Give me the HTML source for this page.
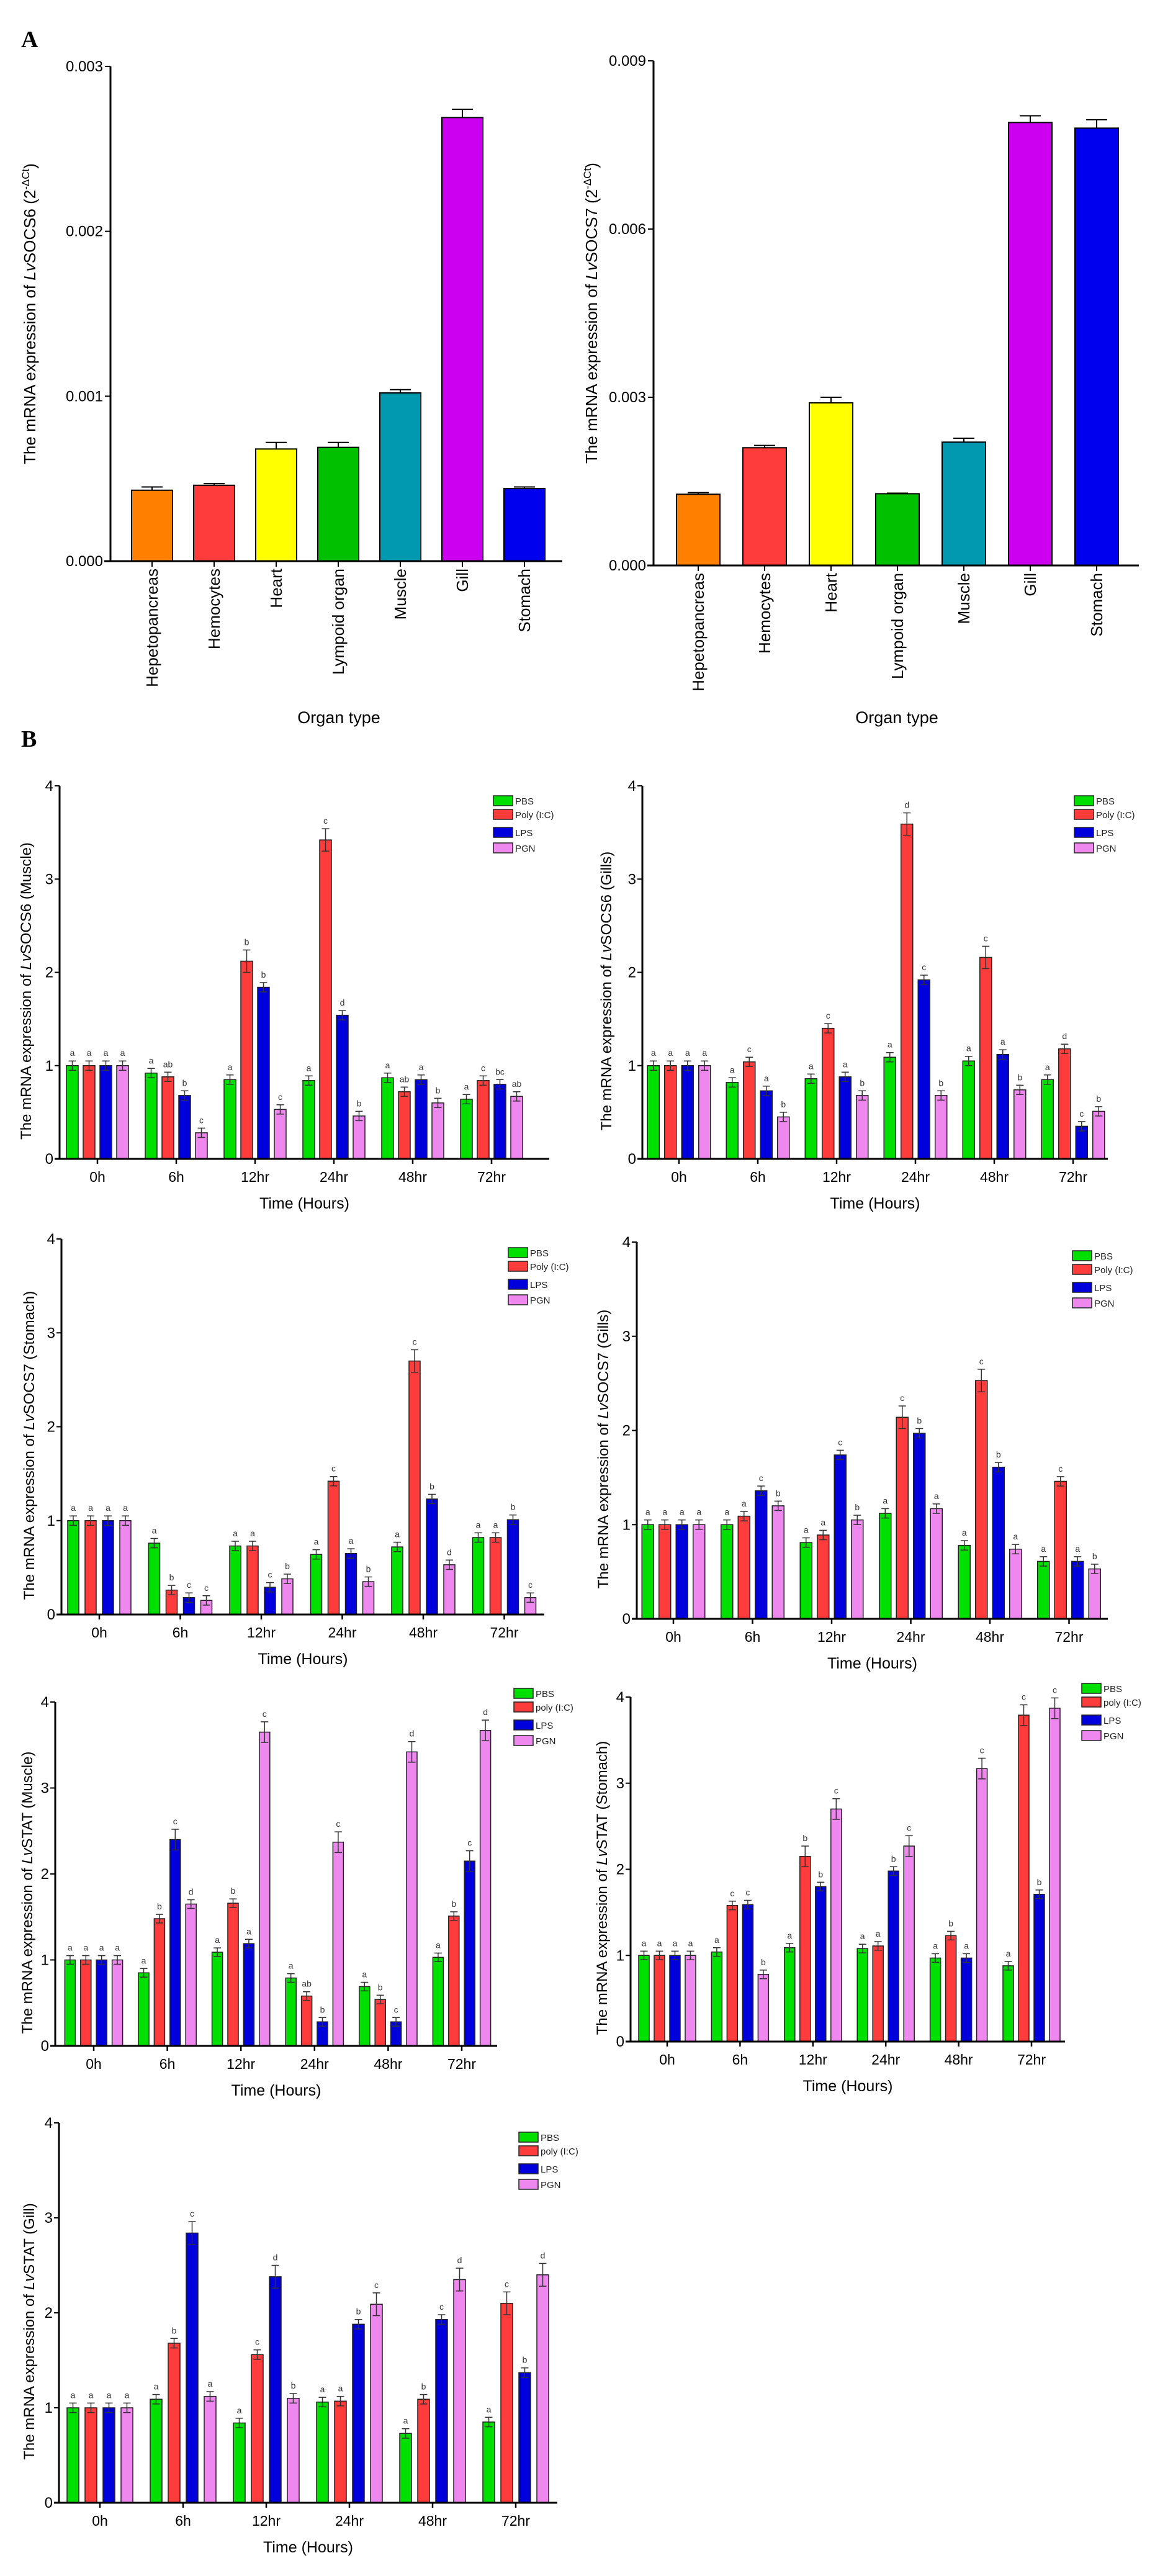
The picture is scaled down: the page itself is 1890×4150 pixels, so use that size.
<!DOCTYPE html>
<html><head><meta charset="utf-8">
<style>
html,body{margin:0;padding:0;background:#fff;}
svg{display:block;font-family:"Liberation Sans",Arial,sans-serif;}
</style></head>
<body>
<svg id="fig" width="1890" height="4150" viewBox="0 0 1890 4150" xmlns="http://www.w3.org/2000/svg">
<rect width="1890" height="4150" fill="#fff"/>
<text x="34" y="76" font-family="Liberation Serif,serif" font-weight="bold" font-size="38">A</text>
<text x="34" y="1203" font-family="Liberation Serif,serif" font-weight="bold" font-size="38">B</text>
</svg>
<script>
// ---------- Panel A data ----------
const organs = ["Hepetopancreas","Hemocytes","Heart","Lympoid organ","Muscle","Gill","Stomach"];
const socs6Tissue = [0.00043,0.00046,0.00068,0.00069,0.00102,0.00269,0.00044];
const socs6TissueErr = [0.00002,0.00001,0.00004,0.00003,0.00002,0.00005,0.00001];
const socs7Tissue = [0.00127,0.0021,0.0029,0.00128,0.0022,0.0079,0.0078];
const socs7TissueErr = [0.00003,0.00004,0.00010,0.00001,0.00007,0.00012,0.00015];
const socs6TissueTicks = ["0.000","0.001","0.002","0.003"];
const socs7TissueTicks = ["0.000","0.003","0.006","0.009"];

// ---------- Panel B data ----------
const timePoints = ["0h","6h","12hr","24hr","48hr","72hr"];
const yTicksB = ["0","1","2","3","4"];

const m6Pbs  = [1,0.92,0.85,0.84,0.87,0.64];
const m6Poly = [1,0.88,2.12,3.42,0.72,0.84];
const m6Lps  = [1,0.68,1.84,1.54,0.85,0.80];
const m6Pgn  = [1,0.28,0.53,0.46,0.60,0.67];
const m6Letters = ["aaaa","a,ab,b,c","a,b,b,c","a,c,d,b","a,ab,a,b","a,c,bc,ab"];

const g6Pbs  = [1,0.82,0.86,1.09,1.05,0.85];
const g6Poly = [1,1.04,1.40,3.59,2.16,1.18];
const g6Lps  = [1,0.73,0.88,1.92,1.12,0.35];
const g6Pgn  = [1,0.45,0.68,0.68,0.74,0.51];
const g6Letters = ["aaaa","a,c,a,b","a,c,a,b","a,d,c,b","a,c,a,b","a,d,c,b"];

const s7Pbs  = [1,0.76,0.73,0.64,0.72,0.82];
const s7Poly = [1,0.26,0.73,1.42,2.70,0.82];
const s7Lps  = [1,0.18,0.29,0.65,1.23,1.01];
const s7Pgn  = [1,0.15,0.38,0.35,0.53,0.18];
const s7Letters = ["aaaa","a,b,c,c","a,a,c,b","a,c,a,b","a,c,b,d","a,a,b,c"];

const g7Pbs  = [1,1.00,0.81,1.12,0.78,0.61];
const g7Poly = [1,1.09,0.89,2.14,2.53,1.46];
const g7Lps  = [1,1.36,1.74,1.97,1.61,0.61];
const g7Pgn  = [1,1.20,1.05,1.17,0.74,0.53];
const g7Letters = ["aaaa","a,a,c,b","a,a,c,b","a,c,b,a","a,c,b,a","a,c,a,b"];

const mStatPbs  = [1,0.85,1.09,0.79,0.69,1.03];
const mStatPoly = [1,1.48,1.66,0.58,0.54,1.51];
const mStatLps  = [1,2.40,1.19,0.28,0.28,2.15];
const mStatPgn  = [1,1.65,3.65,2.37,3.42,3.67];
const mStatLetters = ["aaaa","a,b,c,d","a,b,a,c","a,ab,b,c","a,b,c,d","a,b,c,d"];

const sStatPbs  = [1,1.04,1.09,1.08,0.97,0.88];
const sStatPoly = [1,1.58,2.15,1.11,1.23,3.79];
const sStatLps  = [1,1.59,1.80,1.98,0.97,1.71];
const sStatPgn  = [1,0.78,2.70,2.27,3.17,3.87];
const sStatLetters = ["aaaa","a,c,c,b","a,b,b,c","a,a,b,c","a,b,a,c","a,c,b,c"];

const gStatPbs  = [1,1.09,0.84,1.06,0.73,0.85];
const gStatPoly = [1,1.68,1.56,1.07,1.09,2.10];
const gStatLps  = [1,2.84,2.38,1.88,1.93,1.37];
const gStatPgn  = [1,1.12,1.10,2.09,2.35,2.40];
const gStatLetters = ["aaaa","a,b,c,a","a,c,d,b","a,a,b,c","a,b,c,d","a,c,b,d"];

const NS = "http://www.w3.org/2000/svg";
const svg = document.getElementById("fig");
function mk(tag, attrs, parent){
  const e = document.createElementNS(NS, tag);
  for (const k in attrs) e.setAttribute(k, attrs[k]);
  (parent||svg).appendChild(e);
  return e;
}
function txt(str, attrs, parent){ const t = mk("text", attrs, parent); t.textContent = str; return t; }

// ---------- Panel A drawing ----------
function tissuePanel(L, vals, errs, ticks, gene, name){
  const g = mk("g", {});
  
  
  const yMax = parseFloat(ticks[ticks.length-1]);
  const y = v => L.y0 - v / yMax * (L.y0 - L.yTop);
  const colors = ["#ff8000","#ff3c3c","#ffff00","#00c000","#0099b0","#cc00ee","#0000ee"];
  vals.forEach((v,i)=>{
    const cx = L.c0 + i*L.pitch;
    const r = mk("rect",{x:cx-L.bw/2,y:y(v),width:L.bw,height:L.y0-y(v),fill:colors[i],stroke:"#000","stroke-width":2},g);
    
    
    const ye = y(v+errs[i]);
    mk("line",{x1:cx,x2:cx,y1:y(v),y2:ye,stroke:"#000","stroke-width":2},g);
    mk("line",{x1:cx-17,x2:cx+17,y1:ye,y2:ye,stroke:"#000","stroke-width":2},g);
    const lb = txt(organs[i],{x:0,y:0,"font-size":26,"text-anchor":"end",transform:`translate(${cx+9},${L.y0+12}) rotate(-90)`},g);
    
    
  });
  mk("line",{x1:L.ax,x2:L.ax,y1:L.yTop,y2:L.y0+1,stroke:"#000","stroke-width":3},g);
  mk("line",{x1:L.ax-10,x2:L.xEnd,y1:L.y0,y2:L.y0,stroke:"#000","stroke-width":3},g);
  ticks.forEach((t,i)=>{
    const yy = y(parseFloat(t));
    mk("line",{x1:L.ax-9,x2:L.ax,y1:yy,y2:yy,stroke:"#000","stroke-width":2},g);
    const tl = txt(t,{x:L.ax-12,y:yy+8,"font-size":24,"text-anchor":"end"},g);
    
    
  });
  vals.forEach((v,i)=>{ const cx=L.c0+i*L.pitch; mk("line",{x1:cx,x2:cx,y1:L.y0,y2:L.y0+9,stroke:"#000","stroke-width":2},g); });
  const yt = txt("",{x:0,y:0,"font-size":26,"text-anchor":"middle",transform:`translate(${L.ylx},${(L.y0+L.yTop)/2}) rotate(-90)`},g);
  
  
  yt.innerHTML = 'The mRNA expression of <tspan font-style="italic">Lv</tspan>' + gene + ' (2<tspan font-size="17" dy="-10">-ΔCt</tspan><tspan dy="10">)</tspan>';
  const xt = txt("Organ type",{x:L.xtx,y:1165,"font-size":27,"text-anchor":"middle"},g);
  
  
}
tissuePanel({ax:178,yTop:107,y0:904,xEnd:906,c0:245,pitch:100,bw:66,ylx:57,xtx:546}, socs6Tissue, socs6TissueErr, socs6TissueTicks, "SOCS6", "socs6-tissue-chart");
tissuePanel({ax:1053,yTop:98,y0:911,xEnd:1835,c0:1125,pitch:107,bw:70,ylx:962,xtx:1445}, socs7Tissue, socs7TissueErr, socs7TissueTicks, "SOCS7", "socs7-tissue-chart");

// ---------- Panel B drawing ----------
const seriesColors = ["#00e000","#ff3c3c","#0000dd","#ee88ee"];
function timePanel(L, series, letters, gene, tissue, polyLabel, name){
  const g = mk("g", {});
  
  
  const unit = (L.y0 - L.y4)/4;
  const y = v => L.y0 - v*unit;
  const seriesNames = ["pbs","poly-ic","lps","pgn"];
  timePoints.forEach((tp,gi)=>{
    const gc = L.g0 + gi*L.gp;
    const lets = letters[gi].indexOf(",")>=0 ? letters[gi].split(",") : letters[gi].split("");
    series.forEach((s,si)=>{
      const v = s[gi];
      const cx = gc + (si-1.5)*L.ip;
      const r = mk("rect",{x:cx-L.bw/2,y:y(v),width:L.bw,height:L.y0-y(v),fill:seriesColors[si],stroke:"#222","stroke-width":1.5},g);
      
      
      const e = v > 2 ? 0.12 : 0.05;
      const ye = y(v+e), yl = y(v-e);
      mk("line",{x1:cx,x2:cx,y1:yl,y2:ye,stroke:"#333","stroke-width":1.5},g);
      mk("line",{x1:cx-6,x2:cx+6,y1:ye,y2:ye,stroke:"#333","stroke-width":1.5},g);
      mk("line",{x1:cx-6,x2:cx+6,y1:yl,y2:yl,stroke:"#333","stroke-width":1.5},g);
      const lt = txt(lets[si]||"",{x:cx,y:ye-8,"font-size":14,"text-anchor":"middle",fill:"#333"},g);
      
      
    });
    mk("line",{x1:gc,x2:gc,y1:L.y0,y2:L.y0+8,stroke:"#000","stroke-width":2.5},g);
    const tl = txt(tp,{x:gc,y:L.y0+37,"font-size":23,"text-anchor":"middle"},g);
    
    
  });
  mk("line",{x1:L.ax,x2:L.ax,y1:L.y4,y2:L.y0+1,stroke:"#000","stroke-width":3},g);
  mk("line",{x1:L.ax-8,x2:L.xEnd,y1:L.y0,y2:L.y0,stroke:"#000","stroke-width":3},g);
  yTicksB.forEach(t=>{
    const yy = y(parseFloat(t));
    mk("line",{x1:L.ax-8,x2:L.ax,y1:yy,y2:yy,stroke:"#000","stroke-width":2},g);
    const tl = txt(t,{x:L.ax-10,y:yy+8,"font-size":24,"text-anchor":"end"},g);
    
    
  });
  const yt = txt("",{x:0,y:0,"font-size":24,"text-anchor":"middle",transform:`translate(${L.ylx},${(L.y0+L.y4)/2+30}) rotate(-90)`},g);
  
  
  yt.innerHTML = 'The mRNA expression of <tspan font-style="italic">Lv</tspan>' + gene + ' (' + tissue + ')';
  const xt = txt("Time (Hours)",{x:(L.ax+L.xEnd)/2,y:L.y0+80,"font-size":25,"text-anchor":"middle"},g);
  
  
  const labs = ["PBS", polyLabel, "LPS", "PGN"];
  const offs = [0,22,51,76];
  labs.forEach((lb,i)=>{
    const r = mk("rect",{x:L.lx,y:L.ly+offs[i],width:31,height:16,fill:seriesColors[i],stroke:"#222","stroke-width":1.5},g);
    
    
    const t = txt(lb,{x:L.lx+35,y:L.ly+offs[i]+14,"font-size":15,fill:"#222"},g);
    
    
  });
}
timePanel({ax:96,y4:1266,y0:1867,xEnd:885,g0:157,gp:127,ip:27,bw:19,lx:795,ly:1282,ylx:50},[m6Pbs,m6Poly,m6Lps,m6Pgn],m6Letters,"SOCS6","Muscle","Poly (I:C)","socs6-muscle-chart");
timePanel({ax:1035,y4:1266,y0:1867,xEnd:1785,g0:1094,gp:127,ip:27.5,bw:19,lx:1731,ly:1282,ylx:985},[g6Pbs,g6Poly,g6Lps,g6Pgn],g6Letters,"SOCS6","Gills","Poly (I:C)","socs6-gills-chart");
timePanel({ax:99,y4:1996,y0:2601,xEnd:877,g0:160,gp:130.5,ip:28,bw:18,lx:819,ly:2010,ylx:55},[s7Pbs,s7Poly,s7Lps,s7Pgn],s7Letters,"SOCS7","Stomach","Poly (I:C)","socs7-stomach-chart");
timePanel({ax:1026,y4:2001,y0:2608,xEnd:1785,g0:1085,gp:127.5,ip:27.5,bw:19,lx:1728,ly:2015,ylx:980},[g7Pbs,g7Poly,g7Lps,g7Pgn],g7Letters,"SOCS7","Gills","Poly (I:C)","socs7-gills-chart");
timePanel({ax:89,y4:2742,y0:3296,xEnd:801,g0:151,gp:118.6,ip:25.4,bw:17,lx:828,ly:2720,ylx:52},[mStatPbs,mStatPoly,mStatLps,mStatPgn],mStatLetters,"STAT","Muscle","poly (I:C)","stat-muscle-chart");
timePanel({ax:1016,y4:2734,y0:3289,xEnd:1716,g0:1075,gp:117.4,ip:25,bw:17,lx:1743,ly:2712,ylx:978},[sStatPbs,sStatPoly,sStatLps,sStatPgn],sStatLetters,"STAT","Stomach","poly (I:C)","stat-stomach-chart");
timePanel({ax:95,y4:3420,y0:4032,xEnd:898,g0:161,gp:134,ip:29,bw:19,lx:836,ly:3435,ylx:55},[gStatPbs,gStatPoly,gStatLps,gStatPgn],gStatLetters,"STAT","Gill","poly (I:C)","stat-gill-chart");
</script>
</body></html>
